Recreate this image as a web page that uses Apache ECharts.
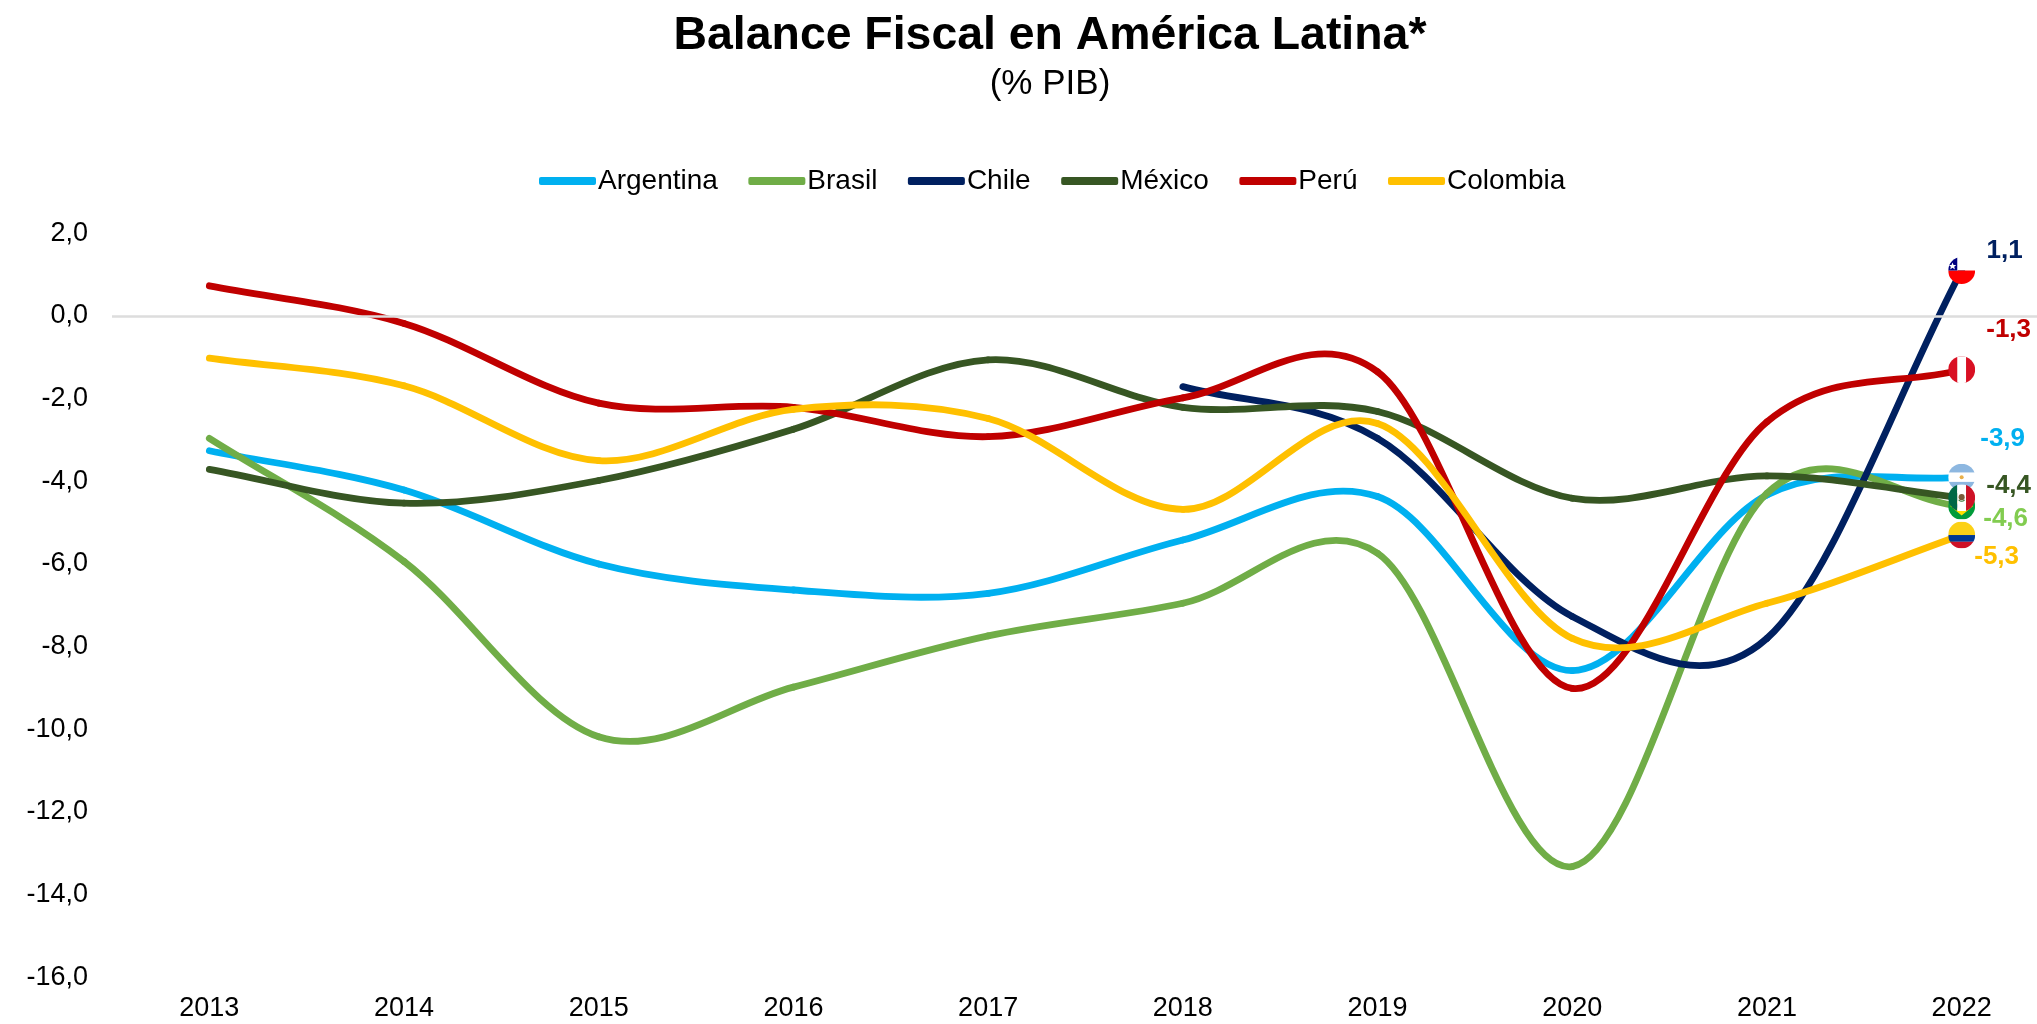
<!DOCTYPE html>
<html><head><meta charset="utf-8">
<style>html,body{margin:0;padding:0;background:#fff}#c{width:2037px;height:1024px}</style>
<script src="https://cdn.jsdelivr.net/npm/echarts@6/dist/echarts.min.js"></script>
</head><body><div id="c"></div>
<script>
const years=['2013','2014','2015','2016','2017','2018','2019','2020','2021','2022'];
const argentina=[-3.26,-4.21,-6.0,-6.63,-6.71,-5.42,-4.37,-8.58,-4.33,-3.9];
const brasil=[-2.96,-5.94,-10.18,-8.98,-7.74,-6.95,-5.74,-13.32,-4.29,-4.6];
const chile=[null,null,null,null,null,-1.71,-2.96,-7.27,-7.8,1.1];
const mexico=[-3.71,-4.53,-3.98,-2.74,-1.06,-2.21,-2.31,-4.41,-3.87,-4.4];
const peru=[0.73,-0.18,-2.11,-2.21,-2.92,-1.98,-1.35,-9.01,-2.56,-1.3];
const colombia=[-1.02,-1.69,-3.5,-2.26,-2.48,-4.68,-2.6,-7.8,-6.95,-5.3];

function flag(body){
  const svg='<svg xmlns="http://www.w3.org/2000/svg" width="160" height="160" viewBox="0 0 80 80"><defs><clipPath id="k"><circle cx="40" cy="40" r="40"/></clipPath></defs><g clip-path="url(#k)">'+body+'</g></svg>';
  return 'data:image/svg+xml;charset=utf-8,'+encodeURIComponent(svg);
}
const flagAR=flag('<rect width="80" height="80" fill="#fff"/><rect width="80" height="26" fill="#8DB7E0"/><rect y="54" width="80" height="26" fill="#8DB7E0"/><circle cx="40" cy="40" r="6" fill="#E8B04A"/>');
const flagBR=flag('<rect width="80" height="80" fill="#009B3A"/><path d="M40 12L74 40L40 68L6 40Z" fill="#FFDF00"/><circle cx="40" cy="40" r="14" fill="#002776"/>');
const flagCL=flag('<rect width="80" height="40" fill="#fff"/><rect y="40" width="80" height="40" fill="#FF0000"/><rect width="27" height="40" fill="#000080"/><path d="M13 16l3 8 8 0-6 5 2 8-7-5-7 5 2-8-6-5 8 0z" fill="#fff"/>');
const flagMX=flag('<rect width="27" height="80" fill="#006847"/><rect x="27" width="26" height="80" fill="#fff"/><rect x="53" width="27" height="80" fill="#CE1126"/><circle cx="40" cy="38" r="9" fill="#7A5C3A"/><path d="M31 46q9 8 18 0" stroke="#3C7A3C" stroke-width="3" fill="none"/>');
const flagPE=flag('<rect width="80" height="80" fill="#D91023"/><rect x="27" width="26" height="80" fill="#fff"/>');
const flagCO=flag('<rect width="80" height="40" fill="#FCD116"/><rect y="40" width="80" height="20" fill="#003893"/><rect y="60" width="80" height="20" fill="#CE1126"/>');

const fontName='"Liberation Sans",Arial,sans-serif';
const comma=v=>v.toFixed(1).replace('.',',');
const dist=(a,b)=>Math.hypot(a[0]-b[0],a[1]-b[1]);

// Spreadsheet-style smoothing between the yearly points
function segmentControls(p0,p1,p2,p3,isFirst,isLast){
  const d12=dist(p1,p2),d02=dist(p0,p2),d13=dist(p1,p3);
  const f1=d02/6<d12/2?(isFirst?1/3:1/6):d12/2/d02;
  const f2=d13/6<d12/2?(isLast?1/3:1/6):d12/2/d13;
  return [p1[0]+(p2[0]-p0[0])*f1,p1[1]+(p2[1]-p0[1])*f1,
          p2[0]-(p3[0]-p1[0])*f2,p2[1]-(p3[1]-p1[1])*f2];
}

function mk(name,values,color,img,labelColor,off,extra){
  const last=values.length-1;
  const first=values.findIndex(v=>v!==null);
  const s={
    name,type:'custom',silent:true,coordinateSystem:'cartesian2d',clip:false,
    itemStyle:{color},encode:{x:0,y:1},
    data:values.map((v,i)=>[i,v===null?'-':v]),
    renderItem(params,api){
      const i=params.dataIndex;
      if(values[i]===null) return null;
      const pt=k=>api.coord([k,values[k]]);
      const children=[];
      if(i<last){
        const p1=pt(i),p2=pt(i+1);
        const p0=i>first?pt(i-1):p1;
        const p3=i+1<last?pt(i+2):p2;
        const c=segmentControls(p0,p1,p2,p3,i===first,i+1===last);
        children.push({type:'bezierCurve',
          shape:{x1:p1[0],y1:p1[1],x2:p2[0],y2:p2[1],cpx1:c[0],cpy1:c[1],cpx2:c[2],cpy2:c[3]},
          style:{fill:null,stroke:color,lineWidth:6.8,lineCap:'round'}});
      } else {
        const p=pt(i);
        children.push({type:'image',style:{image:img,x:p[0]-13.5,y:p[1]-13.5,width:27,height:27}});
        children.push({type:'text',style:{text:comma(values[i]),x:p[0]+off[0],y:p[1]+off[1],
          align:'center',verticalAlign:'middle',fill:labelColor,
          font:'bold 26px '+fontName}});
      }
      return {type:'group',children};
    }
  };
  return Object.assign(s,extra||{});
}

const chart=echarts.init(document.getElementById('c'),null,{renderer:'canvas'});
chart.setOption({
  animation:false,backgroundColor:'#fff',
  title:{
    left:1045,top:8,textAlign:'center',
    text:'Balance Fiscal en América Latina*',
    subtext:'(% PIB)',itemGap:8,
    textStyle:{fontFamily:fontName,fontWeight:'bold',fontSize:46.4,color:'#000'},
    subtextStyle:{fontFamily:fontName,fontSize:35,color:'#000'}
  },
  legend:{
    top:162,left:534,itemWidth:57,itemHeight:8,itemGap:30.5,icon:'roundRect',
    textStyle:{fontFamily:fontName,fontSize:28,color:'#000',padding:[0,0,0,-3]},
    data:['Argentina','Brasil','Chile','México','Perú','Colombia']
  },
  grid:{left:112,width:1947,top:233.3,height:744,outerBoundsMode:'none'},
  xAxis:{type:'category',data:years,boundaryGap:true,
    axisLine:{show:false},axisTick:{show:false},splitLine:{show:false},
    axisLabel:{color:'#000',fontFamily:fontName,fontSize:27,margin:18}},
  yAxis:{type:'value',min:-16,max:2,interval:2,
    axisLine:{show:false},axisTick:{show:false},splitLine:{show:false},
    axisLabel:{color:'#000',fontFamily:fontName,fontSize:27,margin:24,formatter:v=>comma(v)}},
  series:[
    mk('Argentina',argentina,'#00B0F0',flagAR,'#00B0F0',[41,-38],{markLine:{silent:true,symbol:'none',label:{show:false},lineStyle:{color:'#DDDDDD',width:2.5,type:'solid'},data:[{yAxis:0}],animation:false}}),
    mk('Brasil',brasil,'#70AD47',flagBR,'#82CC50',[44,13]),
    mk('Chile',chile,'#002060',flagCL,'#002060',[43,-20]),
    mk('México',mexico,'#375623',flagMX,'#375623',[47,-12]),
    mk('Perú',peru,'#C00000',flagPE,'#C00000',[47,-40]),
    mk('Colombia',colombia,'#FFC000',flagCO,'#FFC000',[35,22])
  ]
});
</script></body></html>
